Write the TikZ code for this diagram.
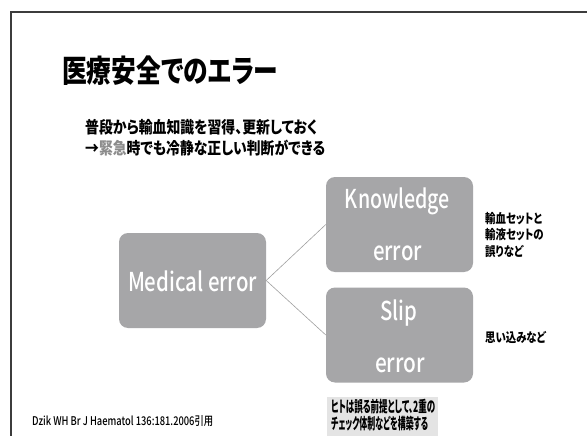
\documentclass[tikz,border=0pt]{standalone}
\usepackage{fontspec}
\usepackage{graphicx}
\setmainfont{Noto Sans CJK JP}[RawFeature=+palt]
\newfontfamily\medfont{Noto Sans CJK JP Medium}
\newcommand\fitw[2]{\resizebox{#1}{\height}{#2}}
\definecolor{boxgray}{RGB}{166,166,168}
\definecolor{notegray}{RGB}{228,228,228}
\definecolor{linegray}{RGB}{160,160,160}
\definecolor{framec}{RGB}{60,60,60}
\definecolor{keygray}{RGB}{140,140,140}
\begin{document}
\begin{tikzpicture}[x=1pt,y=-1pt,
  box/.style={fill=boxgray, rounded corners=9pt, minimum width=147pt, minimum height=95pt, inner sep=0pt},
  boxtext/.style={text=white, inner sep=0pt, anchor=base, font=\medfont\fontsize{26}{26}\selectfont},
  link/.style={draw=linegray, line width=0.6pt},
  jtext/.style={inner sep=0pt, anchor=west, font=\bfseries},
]
\useasboundingbox (0,0) rectangle (587,436);
\fill[white] (0,0) rectangle (587,436);
\draw[framec, line width=1.3pt] (11,436) -- (11,12) -- (587,12);

% title and subtitle
\node[jtext] (title) at (62,70.5) {\fontsize{31}{31}\selectfont\fitw{216pt}{医療安全でのエラー}};
\node[jtext] (sub1) at (85,127) {\fontsize{16.5}{16.5}\selectfont\fitw{232pt}{普段から輸血知識を習得、更新しておく}};
\node[jtext] (sub2) at (85,148.5) {\fontsize{16.5}{16.5}\selectfont\fitw{240pt}{→\textcolor{keygray}{緊急}時でも冷静な正しい判断ができる}};

% boxes
\node[box] (med) at (192.5,280.5) {};
\node[box] (know) at (399.5,224.5) {};
\node[box] (slip) at (399.5,335) {};

\node[boxtext] (medt) at (192.5,291) {\fitw{129pt}{Medical error}};
\node[boxtext] (knowt1) at (397.5,208) {\fitw{105pt}{Knowledge}};
\node[boxtext] (knowt2) at (397.5,260) {\fitw{49pt}{error}};
\node[boxtext] (slipt1) at (398.5,320) {\fitw{37pt}{Slip}};
\node[boxtext] (slipt2) at (400,372) {\fitw{50pt}{error}};

% connectors
\draw[link] (med.east) -- (know.west);
\draw[link] (med.east) -- (slip.west);

% notes
\node[jtext, align=left, font=\bfseries\fontsize{13}{16.8}\selectfont] (note1) at (485,235)
  {\scalebox{0.8}[1]{輸血セットと}\\\scalebox{0.8}[1]{輸液セットの}\\\scalebox{0.8}[1]{誤りなど}};
\node[jtext, font=\bfseries\fontsize{13}{13}\selectfont] (note2) at (485,337) {\scalebox{0.8}[1]{思い込みなど}};

% bottom note box
\fill[notegray] (327,397) rectangle (438,437);
\node[jtext, font=\bfseries\fontsize{15.5}{15.5}\selectfont] (bn1) at (331,406.5) {\fitw{104pt}{ヒトは誤る前提として、2重の}};
\node[jtext, font=\bfseries\fontsize{15.5}{15.5}\selectfont] (bn2) at (331,423.5) {\fitw{97pt}{チェック体制などを構築する}};

% citation
\node[inner sep=0pt, anchor=west, font=\medfont\fontsize{12}{12}\selectfont] (cite) at (32,421) {\fitw{181pt}{Dzik WH Br J Haematol 136:181.2006引用}};
\end{tikzpicture}
\end{document}
